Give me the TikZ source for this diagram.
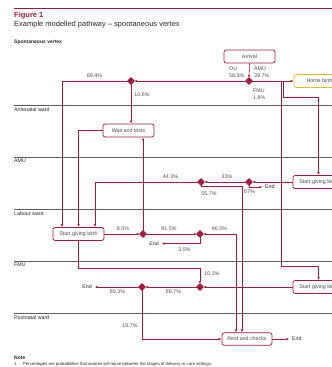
\documentclass[tikz,border=0pt]{standalone}
\usepackage{fontspec}
\setmainfont{Liberation Sans}
\usetikzlibrary{shapes.geometric,arrows.meta}
\definecolor{crim}{RGB}{160,28,62}
\definecolor{gold}{RGB}{230,186,45}
\definecolor{txt}{RGB}{75,75,75}
\definecolor{lanec}{RGB}{95,95,95}
\begin{document}
\begin{tikzpicture}[x=1pt,y=-1pt,
  box/.style={draw=crim,line width=0.7pt,rounded corners=2.2pt,fill=white,minimum width=51pt,minimum height=13pt,inner sep=0pt,font=\fontsize{5.3}{6}\selectfont,text=txt},
  dia/.style={circle,fill=crim,inner sep=0pt,minimum size=5.6pt,
    label={[diamond,fill=crim,inner sep=0pt,minimum size=8pt]center:{}}},
  conn/.style={draw=crim,line width=0.6pt},
  arr/.style={conn,-{Triangle[length=2.4pt,width=2.3pt]},shorten >=0.6pt},
  lbl/.style={font=\fontsize{5.3}{7}\selectfont,text=txt,inner sep=0pt},
  endl/.style={font=\fontsize{5.3}{6}\selectfont,text=black!85,inner sep=2.5pt},
  lane/.style={draw=lanec,line width=1pt},
  lanel/.style={font=\fontsize{5.3}{6}\selectfont,text=black!85,anchor=north west,inner sep=0pt}]
\useasboundingbox (0,0) rectangle (332,367);
\clip (0,0) rectangle (332,367);
% header
\draw[crim,line width=0.6pt] (14,8) -- (332,8);
\node[anchor=west,font=\bfseries\fontsize{7.5}{9}\selectfont,text=crim,inner sep=0pt] (fig) at (14,16) {Figure 1};
\node[anchor=west,font=\fontsize{7.5}{9}\selectfont,text=black!85,inner sep=0pt] (title) at (14,25) {Example modelled pathway – spontaneous vertex};
\node[anchor=west,font=\bfseries\fontsize{5}{6}\selectfont,text=black!85,inner sep=0pt] (sv) at (14,42) {Spontaneous vertex};
% lanes
\draw[lane] (14,105) -- (332,105);
\node[lanel] (l1) at (14,107) {Antenatal ward};
\draw[lane] (14,157) -- (332,157);
\node[lanel] (l2) at (14,159) {AMU};
\draw[lane] (14,209) -- (332,209);
\node[lanel] (l3) at (14,211) {Labour ward};
\draw[lane] (14,261) -- (332,261);
\node[lanel] (l4) at (14,263) {FMU};
\draw[lane] (14,313) -- (332,313);
\node[lanel] (l5) at (14,315) {Postnatal ward};
% nodes
\node[box] (arr) at (249.5,56.5) {Arrival};
\node[box,draw=gold] (home) at (319.5,81) {Home birth};
\node[box] (wait) at (128.5,130.5) {Wait and tests};
\node[box] (sgbA) at (318.5,182) {Start giving birth};
\node[box] (sgbL) at (78.5,234) {Start giving birth};
\node[box] (sgbF) at (318.5,287) {Start giving birth};
\node[box,minimum width=50pt,minimum height=12.5pt] (rest) at (247,339) {Rest and checks};
% diamonds
\node[dia] (d1) at (249,81) {};
\node[dia] (d2) at (131,81) {};
\node[dia] (d3) at (201,182) {};
\node[dia] (d4) at (249,182) {};
\node[dia] (d5) at (143,234) {};
\node[dia] (d6) at (200,234) {};
\node[dia] (d7) at (200,287) {};
\node[dia] (d8) at (142,287) {};
% ends
\node[endl,anchor=west] (e1) at (262.5,187) {End};
\node[endl,anchor=east] (e2) at (161.5,243.5) {End};
\node[endl,anchor=east] (e3) at (94.5,287) {End};
\node[endl,anchor=west] (e4) at (289.5,339) {End};
% connectors
\coordinate (j1) at (283,81);
\coordinate (j2) at (281,81);
\coordinate (j3) at (242,186);
\draw[arr] (arr.south) -- (d1.north);
\draw[arr] (d1.west) -- (d2.east);
\draw[arr] (d1.east) -- (home.west);
\draw[arr] (j1) -- ++(0,16) -| (sgbA.north);
\draw[arr] (j2) -- ++(0,185) -| (sgbF.north);
\draw[arr] (d2.west) -| ([xshift=-16.5pt]sgbL.north);
\draw[arr] (d2.south) -- (d2 |- wait.north);
\draw[arr] (wait.west) -| (sgbL.north);
\draw[arr] (d5.north) -- (d5 |- wait.south);
\draw[arr] (sgbL.east) -- (d5.west);
\draw[arr] (d5.east) -- (d6.west);
\draw[arr] (d6.south) |- (e2.east);
\draw[conn,{Triangle[length=2.4pt,width=2.3pt]}-{Triangle[length=2.4pt,width=2.3pt]},shorten <=0.6pt,shorten >=0.6pt] (d6.east) -| ([xshift=-11pt]rest.north);
\draw[arr] (sgbA.west) -- (d4.east);
\draw[arr] (d4.west) -- (d3.east);
\draw[arr] (d4.south) |- (e1.west);
\draw[arr] (d3.west) -| ([xshift=16.5pt]sgbL.north);
\draw[arr] (d3.south) |- (j3) -- (j3 |- rest.north);
\draw[arr] (sgbL.south) -- ++(0,27) -| (d7.north);
\draw[arr] (sgbF.west) -- (d7.east);
\draw[arr] (d7.west) -- (d8.east);
\draw[arr] (d8.west) -- (e3.east);
\draw[arr] (d8.south) |- (rest.west);
\draw[arr] (rest.east) -- (e4.west);
% labels
\node[lbl,anchor=west,align=left] (tOU) at (229,72.5) {OU\\58.5\%};
\node[lbl,anchor=west,align=left] (tAMU) at (254,72.5) {AMU\\39.7\%};
\node[lbl,anchor=west,align=left] (tFMU) at (253,94.5) {FMU\\1.8\%};
\node[lbl] (t894) at (94.5,76) {89.4\%};
\node[lbl] (t106) at (142,95) {10.6\%};
\node[lbl] (t443) at (170.5,177) {44.3\%};
\node[lbl] (t33) at (227,177) {33\%};
\node[lbl] (t557) at (209,194) {55.7\%};
\node[lbl] (t67) at (249.5,192) {67\%};
\node[lbl] (t85) at (123,228.5) {8.5\%};
\node[lbl] (t915) at (169,228.5) {91.5\%};
\node[lbl] (t965) at (219.5,229) {96.5\%};
\node[lbl] (t35) at (184.5,250) {3.5\%};
\node[lbl] (t103) at (212,274) {10.3\%};
\node[lbl] (t897) at (173.5,292) {89.7\%};
\node[lbl] (t803) at (117.5,292) {80.3\%};
\node[lbl] (t197) at (130,326) {19.7\%};
% note
\node[anchor=west,font=\bfseries\fontsize{5}{6}\selectfont,text=black!85,inner sep=0pt] (note) at (14,358) {Note};
\node[anchor=west,font=\fontsize{4.3}{5}\selectfont,text=black!85,inner sep=0pt] (n1) at (14,364) {1};
\node[anchor=west,font=\fontsize{4.3}{5}\selectfont,text=black!85,inner sep=0pt] (n2) at (23,364) {Percentages are probabilities that women will move between the stages of delivery or care settings.};
\end{tikzpicture}
\end{document}
